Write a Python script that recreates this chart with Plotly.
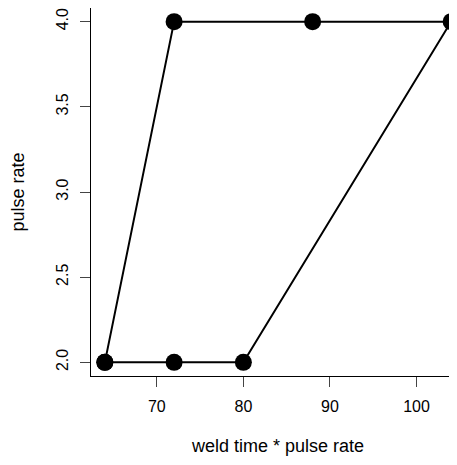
import plotly.graph_objects as go

weld_x = [64, 72, 88, 104, 80, 72, 64]
pulse_y = [2, 4, 4, 4, 2, 2, 2]
x_ticks = [70, 80, 90, 100]
y_ticks = [2.0, 2.5, 3.0, 3.5, 4.0]
y_ticklabels = ["2.0", "2.5", "3.0", "3.5", "4.0"]

font = "Liberation Sans, Arial, Helvetica, sans-serif"

fig = go.Figure()
fig.add_trace(go.Scatter(
    x=weld_x, y=pulse_y, mode="lines+markers",
    line=dict(color="black", width=2),
    marker=dict(color="black", size=17),
    cliponaxis=False, showlegend=False,
))

fig.update_layout(
    width=457, height=457,
    margin=dict(l=83.4, r=0, t=0.4, b=88.7),
    plot_bgcolor="white", paper_bgcolor="white",
    font=dict(family=font, size=16, color="black"),
    xaxis=dict(
        range=[62.4, 105.6], showgrid=False, zeroline=False,
        showline=True, linecolor="black", linewidth=1, mirror=True,
        ticks="outside", ticklen=10, tickcolor="#444", tickwidth=1,
        tickvals=x_ticks, ticklabelstandoff=6,
        title=dict(text="weld time * pulse rate", standoff=25, font=dict(size=18)),
    ),
    yaxis=dict(
        range=[1.92, 4.08], showgrid=False, zeroline=False,
        showline=True, linecolor="black", linewidth=1, mirror=True,
        ticks="outside", ticklen=10, tickcolor="#444", tickwidth=1,
        tickvals=y_ticks, ticktext=y_ticklabels, tickangle=-90,
        ticklabelstandoff=6,
        title=dict(text="pulse rate", standoff=25, font=dict(size=18)),
    ),
)

fig.write_html("out.html")
